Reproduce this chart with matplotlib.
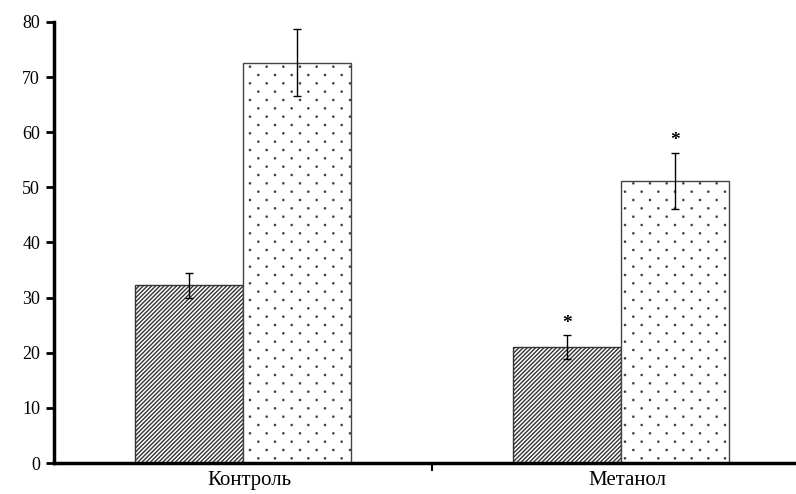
import numpy as np
import matplotlib
matplotlib.use("Agg")
import matplotlib.pyplot as plt
import matplotlib.hatch as mhatch
import matplotlib.transforms as mtrans
from matplotlib.path import Path

# data
groups = ["Контроль", "Метанол"]
hatched_vals = [32.2, 21.0]
hatched_err = [2.3, 2.2]
dotted_vals = [72.6, 51.2]
dotted_err = [6.1, 5.1]
hatched_star = [False, True]
dotted_star = [False, True]


# sparse staggered dots, closer to the original than the stock '.' hatch
class DotGrid(mhatch.HatchPatternBase):
    def __init__(self, hatch, density):
        self.num_vertices = 0
        if hatch.count('.') == 0:
            return
        cols, rows = 6, 12
        pts = []
        for r in range(rows + 1):
            y = r / rows
            if r % 2 == 0:
                xs = np.linspace(0, 1, cols + 1)
            else:
                xs = np.arange(cols) / cols + 0.5 / cols
            for x in xs:
                pts.append((x, y))
        self.pts = pts
        self.circ = Path.unit_circle()
        self.num_vertices = len(pts) * len(self.circ.vertices)

    def set_vertices_and_codes(self, vertices, codes):
        n = len(self.circ.vertices)
        r = 0.006
        for i, (x, y) in enumerate(self.pts):
            vertices[i * n:(i + 1) * n] = self.circ.vertices * r + (x, y)
            codes[i * n:(i + 1) * n] = self.circ.codes


mhatch._hatch_types = [t for t in mhatch._hatch_types
                       if t is not mhatch.SmallFilledCircles] + [DotGrid]

plt.rcParams['font.family'] = ['Liberation Serif', 'DejaVu Serif']
plt.rcParams['hatch.linewidth'] = 1.0

fig = plt.figure(figsize=(7.96, 4.94), dpi=100)
ax = fig.add_axes([54 / 796, 31 / 494, 756 / 796, 441 / 494])

x = np.arange(len(groups))
w = 0.286

ax.bar(x - w / 2, hatched_vals, w, color='white', edgecolor='#333333',
       hatch='////////', linewidth=1.0, zorder=2)
ax.bar(x + w / 2, dotted_vals, w, color='white', edgecolor='#444444',
       hatch='.', linewidth=1.0, zorder=2)
ax.errorbar(x - w / 2, hatched_vals, yerr=hatched_err, fmt='none',
            ecolor='black', elinewidth=1, capsize=3, capthick=1, zorder=3)
ax.errorbar(x + w / 2, dotted_vals, yerr=dotted_err, fmt='none',
            ecolor='black', elinewidth=1, capsize=3, capthick=1, zorder=3)

for i in range(len(groups)):
    if hatched_star[i]:
        ax.text(x[i] - w / 2, hatched_vals[i] + hatched_err[i] + 0.6, '*',
                ha='center', va='bottom', fontsize=14, fontweight='bold')
    if dotted_star[i]:
        ax.text(x[i] + w / 2, dotted_vals[i] + dotted_err[i] + 0.6, '*',
                ha='center', va='bottom', fontsize=14, fontweight='bold')

ax.set_xlim(-0.5, 1.5)
ax.set_ylim(0, 80)
ax.set_yticks(range(0, 81, 10))
ax.set_xticks(x)
ax.set_xticklabels(groups)
ax.set_xticks([0.5], minor=True)
ax.tick_params(axis='x', which='major', length=0, pad=6, labelsize=15)
ax.tick_params(axis='x', which='minor', length=6, width=1.5, direction='out')
ax.tick_params(axis='y', length=6, width=2, labelsize=13, pad=4)

# labels sit a little right of the group centres in the original
shift = mtrans.ScaledTranslation(6 / 100, 0, fig.dpi_scale_trans)
for lab in ax.get_xticklabels():
    lab.set_transform(lab.get_transform() + shift)

for s in ['top', 'right']:
    ax.spines[s].set_visible(False)
for s in ['left', 'bottom']:
    ax.spines[s].set_linewidth(2.5)
    ax.spines[s].set_zorder(4)

fig.savefig('out.png', dpi=100)
